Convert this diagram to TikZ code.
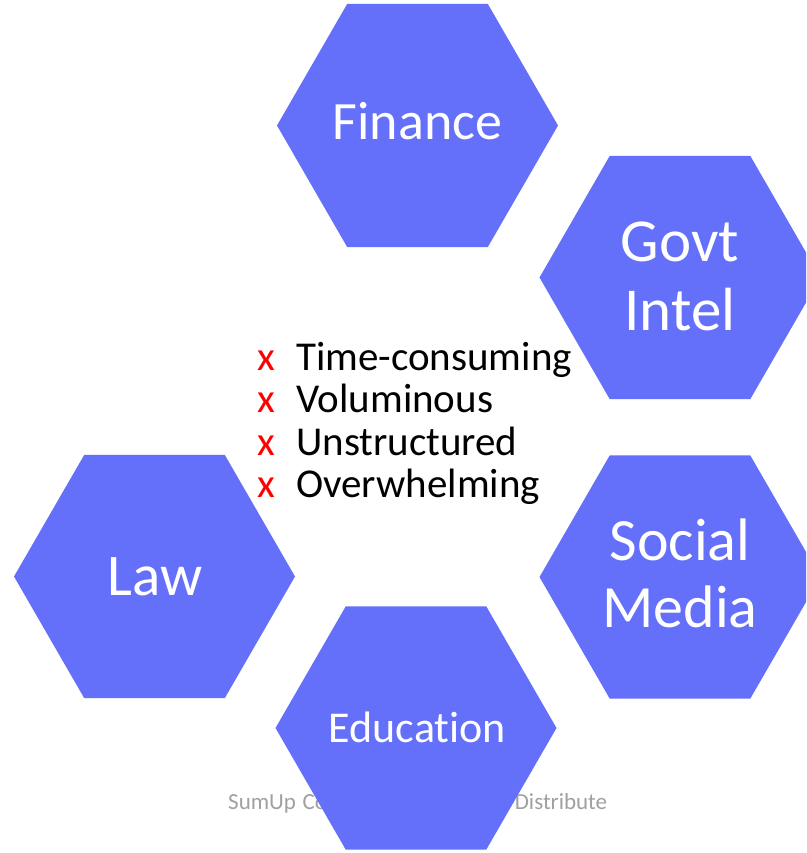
\documentclass[tikz,border=0pt]{standalone}
\usepackage{fontspec}
\setmainfont{Carlito}[RawFeature=-liga]
\usetikzlibrary{shapes.geometric}
\definecolor{hexblue}{RGB}{100,112,250}
\definecolor{footgrey}{RGB}{160,160,160}
\definecolor{xred}{RGB}{255,0,0}
\begin{document}
\begin{tikzpicture}[x=1pt,y=-1pt,
  hexagon/.style={regular polygon, regular polygon sides=6, minimum size=281pt,
    inner sep=0pt, outer sep=0pt, fill=hexblue, draw=none},
  hexlabel/.style={anchor=base, inner sep=0pt, text=white},
  listx/.style={anchor=base west, inner sep=0pt, text=xred, font=\fontsize{41}{42}\selectfont},
  listtext/.style={anchor=base west, inner sep=0pt, text=black, font=\fontsize{41}{42}\selectfont},
  footer/.style={anchor=base west, inner sep=0pt, text=footgrey, font=\fontsize{23}{26}\selectfont}]
\useasboundingbox (0,0) rectangle (806,853);
\clip (0,0) rectangle (806,853);
\fill[white] (0,0) rectangle (806,853);

% footer (partly hidden behind the Education hexagon)
\node[footer] (foot) at (228,809) {\makebox[379pt][s]{SumUp Confidential – Do Not Distribute}};

% hexagons
\node[hexagon] (hexF) at (417.5,125.5) {};
\node[hexagon] (hexG) at (680,277.5) {};
\node[hexagon] (hexS) at (680,577) {};
\node[hexagon] (hexL) at (154.5,576.5) {};
\node[hexagon] (hexE) at (416,728) {};

% hexagon labels
\node[hexlabel, font=\fontsize{54}{60}\selectfont] (labF) at (417.5,140) {Finance};
\node[hexlabel, font=\fontsize{61}{69}\selectfont] (labG1) at (680,261) {Govt};
\node[hexlabel, font=\fontsize{61}{69}\selectfont] (labG2) at (680,330) {Intel};
\node[hexlabel, font=\fontsize{60}{67}\selectfont] (labS1) at (680,560) {Social};
\node[hexlabel, font=\fontsize{60}{67}\selectfont] (labS2) at (680,627) {Media};
\node[hexlabel, font=\fontsize{59}{66}\selectfont] (labL) at (155,595) {Law};
\node[hexlabel, font=\fontsize{44}{50}\selectfont] (labE) at (417.5,742) {Education};

% list
\node[listx] (x1) at (257,370) {x};
\node[listtext] (t1) at (296,370) {Time-consuming};
\node[listx] (x2) at (257,412) {x};
\node[listtext] (t2) at (296,412) {Voluminous};
\node[listx] (x3) at (257,455) {x};
\node[listtext] (t3) at (296,455) {Unstructured};
\node[listx] (x4) at (257,497) {x};
\node[listtext] (t4) at (296,497) {Overwhelming};
\end{tikzpicture}
\end{document}
